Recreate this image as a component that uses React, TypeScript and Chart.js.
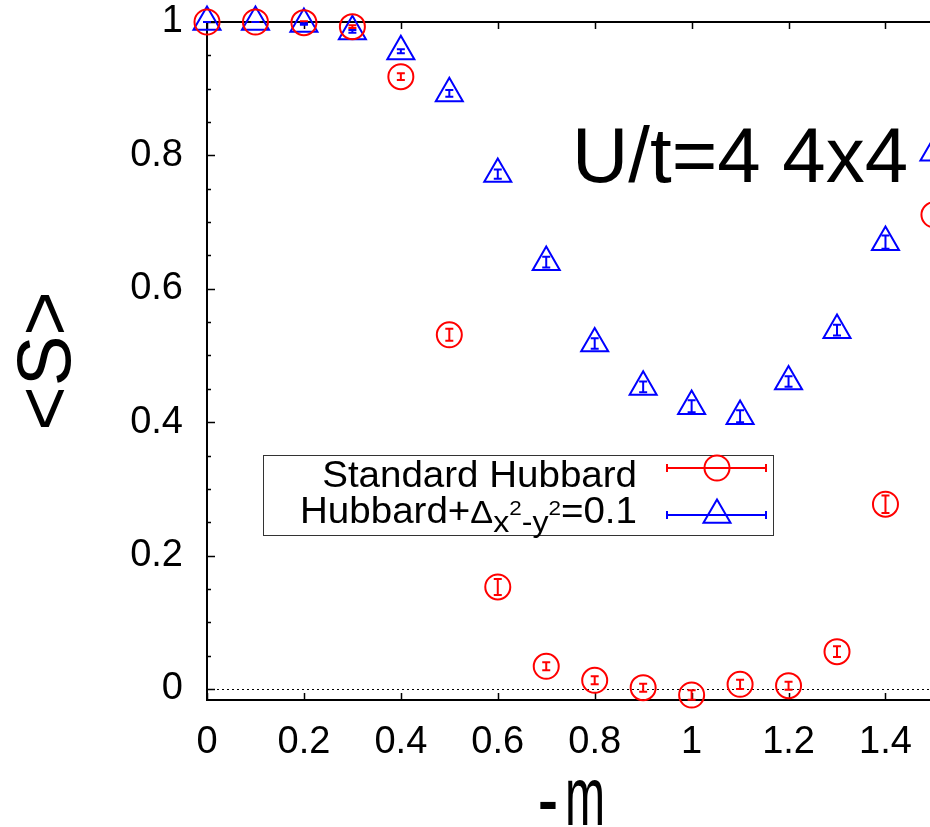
import React, { useEffect, useRef } from 'react';
import { Chart, registerables } from 'chart.js';

Chart.register(...registerables);

// ---- data ----
const muValues = [0, 0.1, 0.2, 0.3, 0.4, 0.5, 0.6, 0.7, 0.8, 0.9, 1.0, 1.1, 1.2, 1.3, 1.4, 1.5];
const standardS = [1.0, 1.0, 0.999, 0.993, 0.918, 0.531, 0.153, 0.034, 0.013, 0.002, -0.009, 0.007, 0.005, 0.056, 0.277, 0.711];
const standardErr = [0, 0, 0.002, 0.002, 0.005, 0.009, 0.012, 0.006, 0.006, 0.006, 0.007, 0.007, 0.006, 0.008, 0.013, 0.012];
const dwaveS = [1.0, 1.0, 0.997, 0.986, 0.956, 0.893, 0.772, 0.640, 0.518, 0.453, 0.424, 0.409, 0.461, 0.538, 0.670, 0.804];
const dwaveErr = [0, 0, 0.001, 0.002, 0.003, 0.005, 0.007, 0.008, 0.008, 0.008, 0.009, 0.009, 0.008, 0.008, 0.010, 0.010];

const xTickValues = [0, 0.2, 0.4, 0.6, 0.8, 1.0, 1.2, 1.4];
const yTickValues = [0, 0.2, 0.4, 0.6, 0.8, 1.0];
const yMinorStep = 0.05;

const titleText = 'U/t=4 4x4';
const yAxisTitle = '<S>';
const xAxisTitleDash = '-';
const xAxisTitleLetter = 'm';
const legendLabel1 = 'Standard Hubbard';
const legendLabel2Parts = ['Hubbard+', 'Δ', 'x', '2', '-y', '2', '=0.1'];

const RED = '#ff0000';
const BLUE = '#0000ff';
const FONT = '"Liberation Sans", Arial, Helvetica, sans-serif';

function drawTriangle(ctx: CanvasRenderingContext2D, x: number, y: number, r: number) {
  ctx.beginPath();
  let rad = 0;
  ctx.moveTo(x + Math.sin(rad) * r, y - Math.cos(rad) * r);
  rad += (2 * Math.PI) / 3;
  ctx.lineTo(x + Math.sin(rad) * r, y - Math.cos(rad) * r);
  rad += (2 * Math.PI) / 3;
  ctx.lineTo(x + Math.sin(rad) * r, y - Math.cos(rad) * r);
  ctx.closePath();
  ctx.stroke();
}

function drawErrSample(ctx: CanvasRenderingContext2D, x1: number, x2: number, y: number, color: string) {
  ctx.strokeStyle = color;
  ctx.lineWidth = 2;
  ctx.beginPath();
  ctx.moveTo(x1, y);
  ctx.lineTo(x2, y);
  ctx.moveTo(x1, y - 4);
  ctx.lineTo(x1, y + 4);
  ctx.moveTo(x2, y - 4);
  ctx.lineTo(x2, y + 4);
  ctx.stroke();
}

const framePlugin = {
  id: 'gnuFrame',
  beforeDatasetsDraw(chart: any) {
    const { ctx, chartArea: a, scales } = chart;
    const x = scales.x;
    const y = scales.y;
    ctx.save();
    // zero line
    const y0 = Math.round(y.getPixelForValue(0)) + 0.5;
    ctx.strokeStyle = '#000';
    ctx.lineWidth = 1;
    ctx.setLineDash([2, 3]);
    ctx.beginPath();
    ctx.moveTo(a.left, y0);
    ctx.lineTo(a.right, y0);
    ctx.stroke();
    ctx.setLineDash([]);
    // border
    ctx.lineWidth = 2;
    ctx.beginPath();
    ctx.moveTo(a.left, a.top);
    ctx.lineTo(a.right, a.top);
    ctx.lineTo(a.right, a.bottom);
    ctx.lineTo(a.left, a.bottom);
    ctx.closePath();
    ctx.stroke();
    // y ticks (major + minor), mirrored
    ctx.lineWidth = 1.5;
    ctx.beginPath();
    const nMinor = Math.round(1 / yMinorStep);
    for (let i = 0; i <= nMinor; i++) {
      const v = i * yMinorStep;
      const isMajor = yTickValues.some((t) => Math.abs(t - v) < 1e-6);
      const len = isMajor ? 8 : 4;
      const py = Math.round(y.getPixelForValue(v)) + 0.5;
      ctx.moveTo(a.left, py);
      ctx.lineTo(a.left + len, py);
      ctx.moveTo(a.right, py);
      ctx.lineTo(a.right - len, py);
    }
    // x ticks, mirrored
    xTickValues.forEach((v) => {
      const px = Math.round(x.getPixelForValue(v)) + 0.5;
      ctx.moveTo(px, a.bottom);
      ctx.lineTo(px, a.bottom - 7);
      ctx.moveTo(px, a.top);
      ctx.lineTo(px, a.top + 7);
    });
    ctx.stroke();
    ctx.restore();
  },
  afterDatasetsDraw(chart: any) {
    const { ctx, scales } = chart;
    const x = scales.x;
    const y = scales.y;
    ctx.save();
    ctx.lineWidth = 2;
    const series = [
      { vals: standardS, errs: standardErr, color: RED },
      { vals: dwaveS, errs: dwaveErr, color: BLUE },
    ];
    series.forEach((s) => {
      ctx.strokeStyle = s.color;
      ctx.beginPath();
      muValues.forEach((m, i) => {
        const px = x.getPixelForValue(m);
        const lo = y.getPixelForValue(s.vals[i] - s.errs[i]);
        const hi = y.getPixelForValue(s.vals[i] + s.errs[i]);
        ctx.moveTo(px, lo);
        ctx.lineTo(px, hi);
        ctx.moveTo(px - 4, lo);
        ctx.lineTo(px + 4, lo);
        ctx.moveTo(px - 4, hi);
        ctx.lineTo(px + 4, hi);
      });
      ctx.stroke();
    });
    ctx.restore();
  },
  afterDraw(chart: any) {
    const { ctx } = chart;
    ctx.save();
    ctx.fillStyle = '#000';
    ctx.textBaseline = 'alphabetic';

    // title inside plot
    ctx.font = `78px ${FONT}`;
    ctx.textAlign = 'left';
    ctx.fillText(titleText, 572, 182);

    // y axis title, rotated
    ctx.save();
    ctx.translate(70, 361);
    ctx.rotate(-Math.PI / 2);
    ctx.font = `76px ${FONT}`;
    ctx.textAlign = 'center';
    ctx.fillText(yAxisTitle, 0, 0);
    ctx.restore();

    // x axis title
    ctx.font = `bold 60px ${FONT}`;
    ctx.textAlign = 'left';
    ctx.fillText(xAxisTitleDash, 538, 821);
    ctx.save();
    ctx.translate(565, 825);
    ctx.scale(0.58, 1);
    ctx.font = `83px ${FONT}`;
    ctx.fillText(xAxisTitleLetter, 0, 0);
    ctx.restore();

    // legend box
    ctx.strokeStyle = '#333';
    ctx.lineWidth = 1;
    ctx.strokeRect(263.5, 455.5, 510, 80);

    const sx = 1.07;
    const textRight = 637;
    // row 1
    ctx.save();
    ctx.font = `36px ${FONT}`;
    ctx.translate(textRight, 487);
    ctx.scale(sx, 1);
    ctx.textAlign = 'right';
    ctx.fillText(legendLabel1, 0, 0);
    ctx.restore();

    // row 2 rich text
    const styles = [
      { size: 36, dy: 0 },
      { size: 32, dy: 0 },
      { size: 30, dy: 9 },
      { size: 21, dy: -8 },
      { size: 30, dy: 9 },
      { size: 21, dy: -8 },
      { size: 36, dy: 0 },
    ];
    let total = 0;
    const widths = legendLabel2Parts.map((t, i) => {
      ctx.font = `${styles[i].size}px ${FONT}`;
      const w = ctx.measureText(t).width;
      total += w;
      return w;
    });
    ctx.save();
    ctx.translate(textRight, 523);
    ctx.scale(sx, 1);
    ctx.textAlign = 'left';
    let cx = -total;
    legendLabel2Parts.forEach((t, i) => {
      ctx.font = `${styles[i].size}px ${FONT}`;
      ctx.fillText(t, cx, styles[i].dy);
      cx += widths[i];
    });
    ctx.restore();

    // samples
    drawErrSample(ctx, 667, 766, 468, RED);
    ctx.strokeStyle = RED;
    ctx.lineWidth = 2;
    ctx.beginPath();
    ctx.arc(717, 468, 12.5, 0, Math.PI * 2);
    ctx.stroke();

    drawErrSample(ctx, 667, 766, 515, BLUE);
    ctx.strokeStyle = BLUE;
    ctx.lineWidth = 2;
    drawTriangle(ctx, 717, 515, 15.6);

    ctx.restore();
  },
};

export default function App() {
  const canvasRef = useRef<HTMLCanvasElement | null>(null);

  useEffect(() => {
    const canvas = canvasRef.current;
    if (!canvas) return;
    const fmt = (v: any) => String(Math.round(Number(v) * 10) / 10);
    const chart = new Chart(canvas, {
      type: 'scatter',
      data: {
        datasets: [
          {
            label: legendLabel1,
            data: muValues.map((m, i) => ({ x: m, y: standardS[i] })),
            pointStyle: 'circle',
            pointRadius: 12.5,
            pointHoverRadius: 12.5,
            borderColor: RED,
            backgroundColor: 'rgba(0,0,0,0)',
            pointBorderWidth: 2,
            borderWidth: 2,
            showLine: false,
            clip: false as any,
          },
          {
            label: 'Hubbard+Δ',
            data: muValues.map((m, i) => ({ x: m, y: dwaveS[i] })),
            pointStyle: 'triangle',
            pointRadius: 15.6,
            pointHoverRadius: 15.6,
            borderColor: BLUE,
            backgroundColor: 'rgba(0,0,0,0)',
            pointBorderWidth: 2,
            borderWidth: 2,
            showLine: false,
            clip: false as any,
          },
        ],
      },
      options: {
        responsive: false,
        maintainAspectRatio: false,
        animation: false,
        events: [],
        layout: { padding: { left: 0, right: 14.6, top: 22, bottom: 0 } },
        plugins: {
          legend: { display: false },
          tooltip: { enabled: false },
          title: { display: false },
        },
        scales: {
          x: {
            type: 'linear',
            min: 0,
            max: 1.6,
            afterBuildTicks: (s: any) => {
              s.ticks = xTickValues.map((v) => ({ value: v }));
            },
            afterFit: (s: any) => {
              s.height = 127;
              s.paddingLeft = 0;
              s.paddingRight = 0;
              s.paddingTop = 0;
              s.paddingBottom = 0;
            },
            grid: { display: false, drawTicks: false },
            border: { display: false },
            ticks: {
              color: '#000',
              font: { family: FONT, size: 38, lineHeight: 1 },
              padding: 24,
              maxRotation: 0,
              autoSkip: false,
              callback: fmt,
            },
          },
          y: {
            type: 'linear',
            min: -0.0165,
            max: 1.0,
            afterBuildTicks: (s: any) => {
              s.ticks = yTickValues.map((v) => ({ value: v }));
            },
            afterFit: (s: any) => {
              s.width = 207;
              s.paddingLeft = 0;
              s.paddingRight = 0;
              s.paddingTop = 0;
              s.paddingBottom = 0;
            },
            grid: { display: false, drawTicks: false },
            border: { display: false },
            ticks: {
              color: '#000',
              font: { family: FONT, size: 38, lineHeight: 1 },
              padding: 24,
              autoSkip: false,
              callback: fmt,
            },
          },
        },
      },
      plugins: [framePlugin],
    } as any);
    return () => chart.destroy();
  }, []);

  return (
    <div
      style={{
        position: 'fixed',
        left: 0,
        top: 0,
        width: 930,
        height: 827,
        overflow: 'hidden',
        background: '#fff',
      }}
    >
      <canvas ref={canvasRef} width={1000} height={827} style={{ display: 'block' }} />
    </div>
  );
}
